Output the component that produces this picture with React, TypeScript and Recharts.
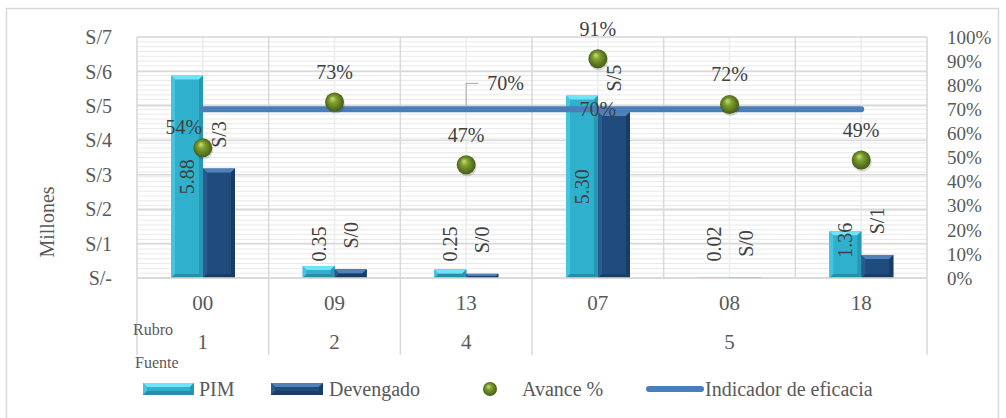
import React from 'react'
import {
  ComposedChart,
  Bar,
  Line,
  Scatter,
  XAxis,
  YAxis,
  CartesianGrid,
} from 'recharts'

const rubros = ['00', '09', '13', '07', '08', '18']
const fuentes = ['1', '2', '4', '5', '5', '5']
const pim = [5.88, 0.35, 0.25, 5.3, 0.02, 1.36]
const devengado = [3.18, 0.255, 0.12, 4.82, 0.0144, 0.67]
const avance = [0.54, 0.73, 0.47, 0.91, 0.72, 0.49]
const indicador = [0.7, 0.7, 0.7, 0.7, 0.7, 0.7]
const leftTicks = [0, 1, 2, 3, 4, 5, 6, 7]
const rightTicks = [0, 0.1, 0.2, 0.3, 0.4, 0.5, 0.6, 0.7, 0.8, 0.9, 1]

const data = rubros.map((r, i) => ({
  rubro: r,
  fuente: fuentes[i],
  pim: pim[i],
  dev: devengado[i],
  avance: avance[i],
  indicador: indicador[i],
}))

const FONT = '"Liberation Serif", "Times New Roman", serif'
const TXT = '#595959'
const GRID = '#d9d9d9'
const MINOR = '#e9e9e9'

const pct = (v: number) => `${Math.round(v * 100)}%`

function bevel(x: number, y: number, w: number, h: number, c: { base: string; top: string; left: string; right: string; bottom: string }) {
  const b = Math.min(4, h / 2, w / 2)
  return (
    <g>
      <rect x={x} y={y} width={w} height={h} fill={c.base} />
      <polygon points={`${x},${y} ${x + w},${y} ${x + w - b},${y + b} ${x + b},${y + b}`} fill={c.top} />
      <polygon points={`${x},${y} ${x + b},${y + b} ${x + b},${y + h - b} ${x},${y + h}`} fill={c.left} />
      <polygon points={`${x + w},${y} ${x + w - b},${y + b} ${x + w - b},${y + h - b} ${x + w},${y + h}`} fill={c.right} />
      <polygon points={`${x},${y + h} ${x + b},${y + h - b} ${x + w - b},${y + h - b} ${x + w},${y + h}`} fill={c.bottom} />
    </g>
  )
}

const pimColors = { base: '#2fb1cd', top: '#6fe4f7', left: '#44c4de', right: '#2698b2', bottom: '#258fa8' }
const devColors = { base: '#1f4c7c', top: '#5081b9', left: '#2b5b8e', right: '#173c65', bottom: '#183e68' }

const PimShape = (props: any) => {
  const { x, y, width, height, payload } = props
  const cx = x + width / 2
  const cy = height >= 60 ? y + height / 2 : Math.min(y + 9, 244)
  return (
    <g>
      {bevel(x, y, width, height, pimColors)}
      <text
        x={cx}
        y={cy}
        transform={`rotate(-90 ${cx} ${cy})`}
        textAnchor="middle"
        dominantBaseline="central"
        fontFamily={FONT}
        fontSize={20}
        fill="#404040"
      >
        {payload.pim.toFixed(2)}
      </text>
    </g>
  )
}

const DevShape = (props: any) => {
  const { x, y, width, height, payload } = props
  const cx = x + width / 2
  const cy = y - 34
  return (
    <g>
      {bevel(x, y, width, height, devColors)}
      <text
        x={cx}
        y={cy}
        transform={`rotate(-90 ${cx} ${cy})`}
        textAnchor="middle"
        dominantBaseline="central"
        fontFamily={FONT}
        fontSize={20}
        fill="#404040"
      >
        {`S/${Math.round(payload.dev)}`}
      </text>
    </g>
  )
}

const Ball = (props: any) => {
  const { cx, cy, payload } = props
  const first = payload.rubro === rubros[0]
  return (
    <g>
      <circle cx={cx + 1} cy={cy + 2} r={9.5} fill="rgba(0,0,0,0.15)" />
      <circle cx={cx} cy={cy} r={9.5} fill="url(#ball)" />
      <text
        x={first ? cx - 19 : cx}
        y={first ? cy - 21 : cy - 30}
        textAnchor="middle"
        dominantBaseline="central"
        fontFamily={FONT}
        fontSize={20}
        fill="#404040"
      >
        {pct(payload.avance)}
      </text>
    </g>
  )
}

const IndicadorLabel = (props: any) => {
  const { cx, cy, index, value } = props
  if (index === 2) {
    return (
      <g key={index}>
        <polyline
          points={`${cx},${cy - 3} ${cx},${cy - 26} ${cx + 12},${cy - 26}`}
          fill="none"
          stroke="#a6a6a6"
          strokeWidth={1}
        />
        <text x={cx + 21} y={cy - 26} dominantBaseline="central" fontFamily={FONT} fontSize={20} fill="#404040">
          {pct(value)}
        </text>
      </g>
    )
  }
  if (index === 3) {
    return (
      <text key={index} x={cx} y={cy} textAnchor="middle" dominantBaseline="central" fontFamily={FONT} fontSize={20} fill="#404040">
        {pct(value)}
      </text>
    )
  }
  return <g key={index} />
}

const CatTick = (props: any) => {
  const { x, y, payload } = props
  const i = payload.index
  const half = payload.offset || 65.8
  const parts: React.ReactNode[] = []
  parts.push(
    <text key="r" x={x} y={y + 25} textAnchor="middle" dominantBaseline="central" fontFamily={FONT} fontSize={21} fill={TXT}>
      {payload.value}
    </text>
  )
  if (i === 0 || fuentes[i] !== fuentes[i - 1]) {
    let j = i
    while (j + 1 < fuentes.length && fuentes[j + 1] === fuentes[i]) j++
    parts.push(
      <text key="f" x={x + (j - i) * half} y={y + 64} textAnchor="middle" dominantBaseline="central" fontFamily={FONT} fontSize={21} fill={TXT}>
        {fuentes[i]}
      </text>
    )
    parts.push(<line key="l" x1={x - half} x2={x - half} y1={y} y2={y + 77} stroke={GRID} strokeWidth={1.5} />)
    if (j === fuentes.length - 1) {
      const xr = x + (j - i) * 2 * half + half
      parts.push(<line key="l2" x1={xr} x2={xr} y1={y} y2={y + 77} stroke={GRID} strokeWidth={1.5} />)
    }
  }
  if (i === 0) {
    parts.push(
      <text key="rb" x={x - half - 4} y={y + 51} dominantBaseline="central" fontFamily={FONT} fontSize={16} fill={TXT}>
        Rubro
      </text>
    )
    parts.push(
      <text key="fu" x={x - half - 2} y={y + 84} dominantBaseline="central" fontFamily={FONT} fontSize={16} fill={TXT}>
        Fuente
      </text>
    )
  }
  return <g>{parts}</g>
}

function Legend() {
  const y = 389
  const t = { fontFamily: FONT, fontSize: 20, fill: TXT, dominantBaseline: 'central' as const }
  return (
    <g>
      {bevel(143, y - 6, 51, 12, pimColors)}
      <text x={199} y={y} {...t}>PIM</text>
      {bevel(271, y - 6, 52, 12, devColors)}
      <text x={329} y={y} {...t}>Devengado</text>
      <circle cx={490} cy={y} r={7} fill="url(#ball)" />
      <text x={522} y={y} {...t}>Avance %</text>
      <line x1={649} x2={701} y1={y} y2={y} stroke="#4a7ebb" strokeWidth={6} strokeLinecap="round" />
      <text x={705} y={y} {...t}>Indicador de eficacia</text>
    </g>
  )
}

export default function App() {
  return (
    <div style={{ position: 'absolute', left: 0, top: 0, width: 1006, height: 418, background: '#fff', overflow: 'hidden' }}>
      <svg width={0} height={0} style={{ position: 'absolute' }}>
        <defs>
          <radialGradient id="ball" cx="50%" cy="50%" r="55%" fx="38%" fy="30%">
            <stop offset="0%" stopColor="#c9e07c" />
            <stop offset="35%" stopColor="#7f9f30" />
            <stop offset="100%" stopColor="#3e5513" />
          </radialGradient>
        </defs>
      </svg>
      <ComposedChart
        width={1006}
        height={418}
        data={data}
        barGap={0}
        margin={{ top: 37, right: 19, bottom: 63, left: 77 }}
      >
        <CartesianGrid
          xAxisId="cat"
          yAxisId="left"
          vertical={false}
          stroke={MINOR}
          horizontalCoordinatesGenerator={({ offset }: any) =>
            Array.from({ length: 51 }, (_, k) => offset.top + (k * offset.height) / 50)
          }
        />
        <CartesianGrid xAxisId="cat" yAxisId="left" horizontal={false} stroke="#ececec" strokeWidth={1.5} />
        <CartesianGrid
          xAxisId="cat"
          yAxisId="left"
          stroke={GRID}
          strokeWidth={1.5}
          verticalCoordinatesGenerator={({ offset }: any) =>
            Array.from({ length: 7 }, (_, k) => offset.left + (k * offset.width) / 6)
          }
        />
        <XAxis
          xAxisId="cat"
          dataKey="rubro"
          interval={0}
          height={77}
          tickSize={0}
          tickMargin={0}
          tickLine={false}
          axisLine={{ stroke: GRID, strokeWidth: 1.5 }}
          tick={<CatTick />}
        />
        <YAxis
          yAxisId="left"
          domain={[0, 7]}
          ticks={leftTicks}
          interval={0}
          width={60}
          axisLine={false}
          tickLine={false}
          tickMargin={19}
          tickFormatter={(v: number) => (v === 0 ? 'S/-' : `S/${v}`)}
          tick={{ fontFamily: FONT, fontSize: 20, fill: TXT }}
        />
        <YAxis
          yAxisId="right"
          orientation="right"
          domain={[0, 1]}
          ticks={rightTicks}
          interval={0}
          width={60}
          axisLine={false}
          tickLine={false}
          tickMargin={14}
          tickFormatter={pct}
          tick={{ fontFamily: FONT, fontSize: 19, fill: TXT }}
        />
        <Bar xAxisId="cat" yAxisId="left" dataKey="pim" barSize={32} shape={<PimShape />} isAnimationActive={false} />
        <Bar xAxisId="cat" yAxisId="left" dataKey="dev" barSize={32} shape={<DevShape />} isAnimationActive={false} />
        <Line
          xAxisId="cat"
          yAxisId="right"
          dataKey="indicador"
          stroke="#4a7ebb"
          strokeWidth={6}
          strokeLinecap="round"
          dot={(p: any) => <IndicadorLabel key={p.index} {...p} />}
          activeDot={false}
          isAnimationActive={false}
        />
        <Scatter xAxisId="cat" yAxisId="right" dataKey="avance" shape={<Ball />} isAnimationActive={false} />
      </ComposedChart>
      <svg width={1006} height={418} style={{ position: 'absolute', left: 0, top: 0, pointerEvents: 'none' }}>
        <rect x={6.5} y={8.5} width={992} height={420} fill="none" stroke={GRID} strokeWidth={1.5} />
        <text
          x={47}
          y={222}
          transform="rotate(-90 47 222)"
          textAnchor="middle"
          dominantBaseline="central"
          fontFamily={FONT}
          fontSize={20}
          fill={TXT}
        >
          Millones
        </text>
        <Legend />
      </svg>
    </div>
  )
}
